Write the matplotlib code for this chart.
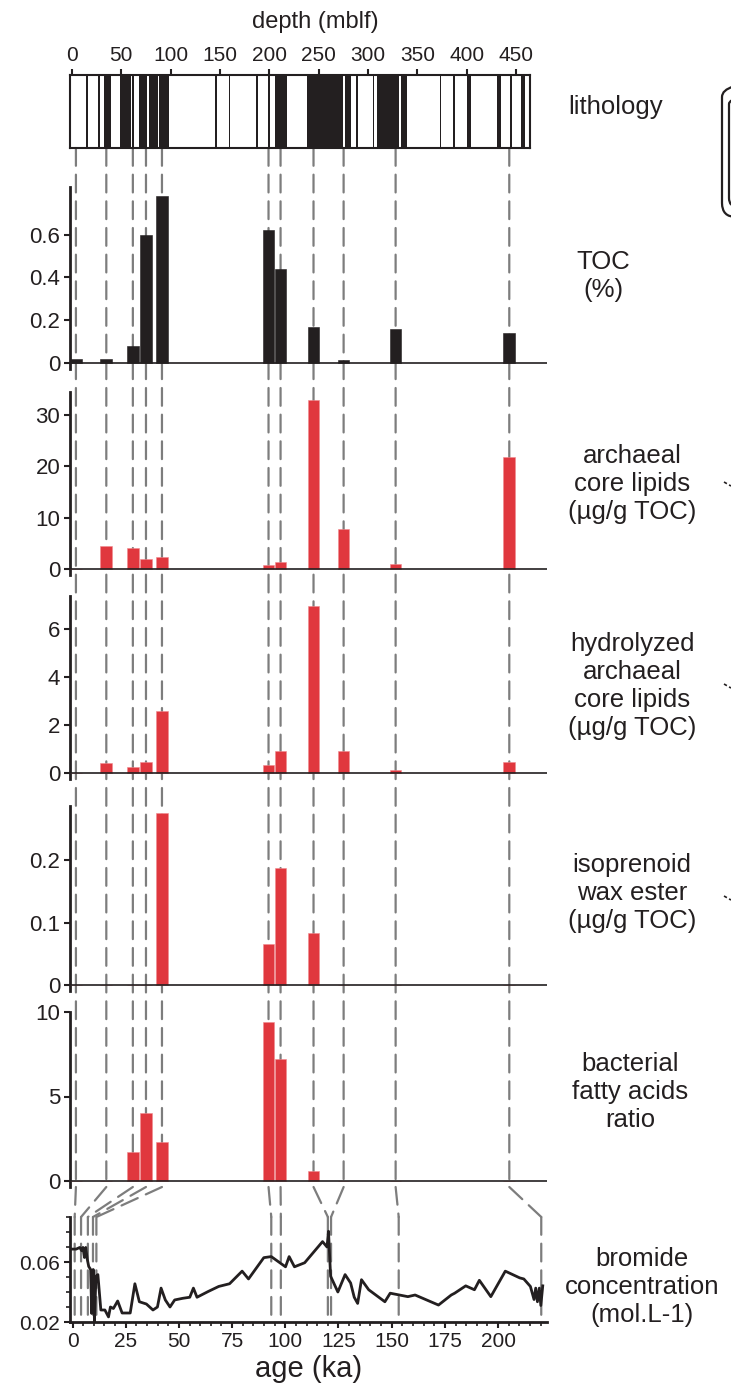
import matplotlib
matplotlib.use("Agg")
import matplotlib.pyplot as plt
from matplotlib.patches import ConnectionPatch, FancyBboxPatch
from matplotlib.lines import Line2D
from matplotlib.ticker import MultipleLocator, FixedLocator

plt.rcParams['font.family'] = ['Liberation Sans', 'DejaVu Sans']

# lithology: dark bands (top, bottom) in mblf
lith_top = [14.5, 26.5, 32, 49, 61, 68, 78, 88.5, 145, 159, 187, 199, 206, 238.5, 277, 288, 305, 309.5, 333, 373, 386.5, 400, 430.5, 444, 455]
lith_bot = [16, 28, 40, 60, 62.5, 76, 87.5, 98, 146.5, 160.5, 188.5, 200.5, 218, 275, 283, 289.5, 306.5, 331, 340, 374.5, 388, 404, 435, 446, 459]

# samples: depth (mblf) and age (ka)
sample_depth = [4, 34.8, 61.7, 75, 91.2, 199.2, 211.4, 244.8, 275.3, 328, 443.2]
sample_age = [1, 4, 7.2, 9.6, 11.2, 93.4, 97.9, 120.0, 121.5, 153.3, 220.3]

toc = [0.018, 0.018, 0.08, 0.60, 0.78, 0.62, 0.44, 0.17, 0.015, 0.16, 0.14]
arch_core = [0, 4.4, 4.1, 1.9, 2.3, 0.8, 1.4, 32.8, 7.8, 1.0, 21.8]
hydro_core = [0, 0.41, 0.26, 0.47, 2.58, 0.34, 0.92, 7.0, 0.91, 0.14, 0.48]
iso_wax = [0, 0, 0, 0, 0.276, 0.065, 0.187, 0.083, 0, 0, 0]
bact_fa = [0, 0, 1.7, 4.05, 2.3, 9.4, 7.2, 0.6, 0, 0, 0]

# bromide record
br_age = [0, 1.7, 3.4, 4.3, 4.9, 5.6, 6.2, 6.9, 7.6, 8.5, 9.0, 9.7, 10.3, 11.0, 11.9, 13.3, 15.2, 16.9, 17.8,
          19.2, 21.2, 23.3, 27.1, 29.3, 31.4, 34.7, 37.8, 39.9, 41.6, 43.6, 45.8, 48.0, 51.8, 55.1, 56.8, 58.5,
          63.7, 68.7, 73.8, 79.7, 82.7, 89.9, 93.4, 100.1, 101.8, 104.3, 109.1, 117.5, 119.6, 120.3, 120.8,
          121.3, 124.7, 128.1, 130.7, 132.4, 134.0, 135.8, 139.2, 146.8, 149.3, 157.6, 161.0, 172.0, 178.0,
          179.6, 184.8, 188.9, 191.2, 196.6, 203.4, 210.2, 212.1, 215.2, 216.9, 217.7, 218.5, 219.4, 220.1, 221.0]
br_val = [0.0686, 0.0686, 0.0697, 0.0675, 0.0697, 0.063, 0.0697, 0.062, 0.057, 0.055, 0.0257, 0.055, 0.0205,
          0.0505, 0.0516, 0.028, 0.028, 0.0234, 0.030, 0.029, 0.034, 0.026, 0.026, 0.0455, 0.0335, 0.032, 0.028,
          0.030, 0.0426, 0.0347, 0.030, 0.0347, 0.0358, 0.0365, 0.0426, 0.0365, 0.0403, 0.0437, 0.0455, 0.0539,
          0.0487, 0.0629, 0.0636, 0.0568, 0.0636, 0.0568, 0.0595, 0.0736, 0.0700, 0.0805, 0.065, 0.0505, 0.040,
          0.0516, 0.046, 0.0365, 0.0324, 0.0482, 0.0415, 0.0335, 0.0392, 0.0369, 0.038, 0.0313, 0.038, 0.0392,
          0.0441, 0.0415, 0.0478, 0.0369, 0.0539, 0.0494, 0.0487, 0.0437, 0.035, 0.0426, 0.0335, 0.0426, 0.031, 0.0441]

W, H = 731, 1391
ink = '#231f20'
red = '#e0373e'
dash_col = '#7d7d7d'
dash_ls = (0, (8, 4))

fig = plt.figure(figsize=(W / 100, H / 100), dpi=100)


def px_axes(x0, x1, ytop, ybot):
    ax = fig.add_axes([x0 / W, 1 - ybot / H, (x1 - x0) / W, (ybot - ytop) / H])
    ax.patch.set_alpha(0)
    return ax


# lithology
ax_l = px_axes(70, 530, 75, 148)
for t, b in zip(lith_top, lith_bot):
    ax_l.axvspan(t, b, color=ink, lw=0)
ax_l.set_xlim(-2, 464.2)
ax_l.set_ylim(0, 1)
ax_l.set_yticks([])
ax_l.xaxis.set_major_locator(MultipleLocator(50))
ax_l.xaxis.tick_top()
ax_l.tick_params(axis='x', direction='out', length=4, width=1.5, labelsize=15, pad=3, colors=ink)
for s in ax_l.spines.values():
    s.set_linewidth(1.5)
    s.set_color(ink)
fig.text(315 / W, 1 - 22 / H, 'depth (mblf)', ha='center', va='center', fontsize=17, color=ink)

# bar panels
panels = [
    (toc, ink, 187, 363, 0.823, [0, 0.2, 0.4, 0.6], ['0', '0.2', '0.4', '0.6']),
    (arch_core, red, 392, 569, 34.4, [0, 10, 20, 30], ['0', '10', '20', '30']),
    (hydro_core, red, 596, 773, 7.4, [0, 2, 4, 6], ['0', '2', '4', '6']),
    (iso_wax, red, 806, 985, 0.287, [0, 0.1, 0.2], ['0', '0.1', '0.2']),
    (bact_fa, red, 1012, 1181, 10, [0, 5, 10], ['0', '5', '10']),
]
bar_axes = []
for vals, col, ytop, yzero, vmax, ticks, labels in panels:
    ax = px_axes(70, 547, ytop, yzero + 6)
    ppu = (yzero - ytop) / vmax
    ax.bar(sample_depth, vals, width=11.8, color=col, edgecolor='#f08a8e' if col == red else col,
           linewidth=0.4, zorder=3)
    ax.axhline(0, color=ink, lw=1.2, zorder=4)
    ax.set_xlim(-2, 481.4)
    ax.set_ylim(-6 / ppu, vmax)
    ax.set_xticks([])
    ax.yaxis.set_major_locator(FixedLocator(ticks))
    ax.set_yticklabels(labels)
    ax.tick_params(axis='y', direction='out', length=4, width=1.5, labelsize=16, pad=3, colors=ink)
    for s in ['top', 'right', 'bottom']:
        ax.spines[s].set_visible(False)
    ax.spines['left'].set_linewidth(2)
    ax.spines['left'].set_color(ink)
    bar_axes.append(ax)

# bromide
ax_b = px_axes(70, 547, 1217, 1322)
ax_b.plot(br_age, br_val, color=ink, lw=2, zorder=3)
ax_b.set_xlim(-1.2, 223)
ax_b.set_ylim(0.02, 0.09)
ax_b.xaxis.set_major_locator(MultipleLocator(25))
ax_b.xaxis.set_minor_locator(MultipleLocator(5))
ax_b.yaxis.set_major_locator(FixedLocator([0.02, 0.06]))
ax_b.yaxis.set_minor_locator(MultipleLocator(0.01))
ax_b.set_yticklabels(['0.02', '0.06'])
ax_b.tick_params(which='major', direction='out', length=4, width=1.5, labelsize=15, pad=3, colors=ink)
ax_b.tick_params(which='minor', direction='out', length=3, width=1.2, colors=ink)
for s in ['top', 'right']:
    ax_b.spines[s].set_visible(False)
for s in ['left', 'bottom']:
    ax_b.spines[s].set_linewidth(2)
    ax_b.spines[s].set_color(ink)
ax_b.set_xlabel('age (ka)', fontsize=21, labelpad=3, color=ink)

# dashed tie lines: lithology -> bars -> bromide
ax_last = bar_axes[-1]
for d, a in zip(sample_depth, sample_age):
    segs = [
        ((d, 0), ax_l.get_xaxis_transform(), (d, 0), ax_last.get_xaxis_transform()),
        ((d, 0), ax_last.get_xaxis_transform(), (a, 1), ax_b.get_xaxis_transform()),
        ((a, 1), ax_b.get_xaxis_transform(), (a, 0), ax_b.get_xaxis_transform()),
    ]
    for xyA, trA, xyB, trB in segs:
        cp = ConnectionPatch(xyA, xyB, coordsA=trA, coordsB=trB, color=dash_col, lw=1.6,
                             linestyle=dash_ls, zorder=-1)
        fig.add_artist(cp)

# right-hand labels
labels_right = [
    ('lithology', 616, 107),
    ('TOC\n(%)', 603, 276),
    ('archaeal\ncore lipids\n(µg/g TOC)', 632, 484),
    ('hydrolyzed\narchaeal\ncore lipids\n(µg/g TOC)', 632, 686),
    ('isoprenoid\nwax ester\n(µg/g TOC)', 632, 893),
    ('bacterial\nfatty acids\nratio', 630, 1092),
    ('bromide\nconcentration\n(mol.L-1)', 642, 1287),
]
for txt, x, y in labels_right:
    fig.text(x / W, 1 - y / H, txt, ha='center', va='center', fontsize=18.5, color=ink, linespacing=1.2)

# cropped decorations at the right edge
for x0, y0, y1, r in [(722, 83, 217, 14), (729, 95, 207, 9)]:
    box = FancyBboxPatch((x0 / W, 1 - y1 / H), 60 / W, (y1 - y0) / H,
                         boxstyle=f"round,pad=0,rounding_size={r / W}",
                         transform=fig.transFigure, fill=False, lw=1.6, ec=ink, mutation_aspect=W / H)
    fig.add_artist(box)
for y in [482, 684, 896]:
    fig.add_artist(Line2D([724 / W, 731 / W], [1 - y / H, 1 - (y + 4) / H], transform=fig.transFigure,
                          color=ink, lw=1.2, linestyle=(0, (2, 1.5))))

fig.savefig('out.png', dpi=100)
